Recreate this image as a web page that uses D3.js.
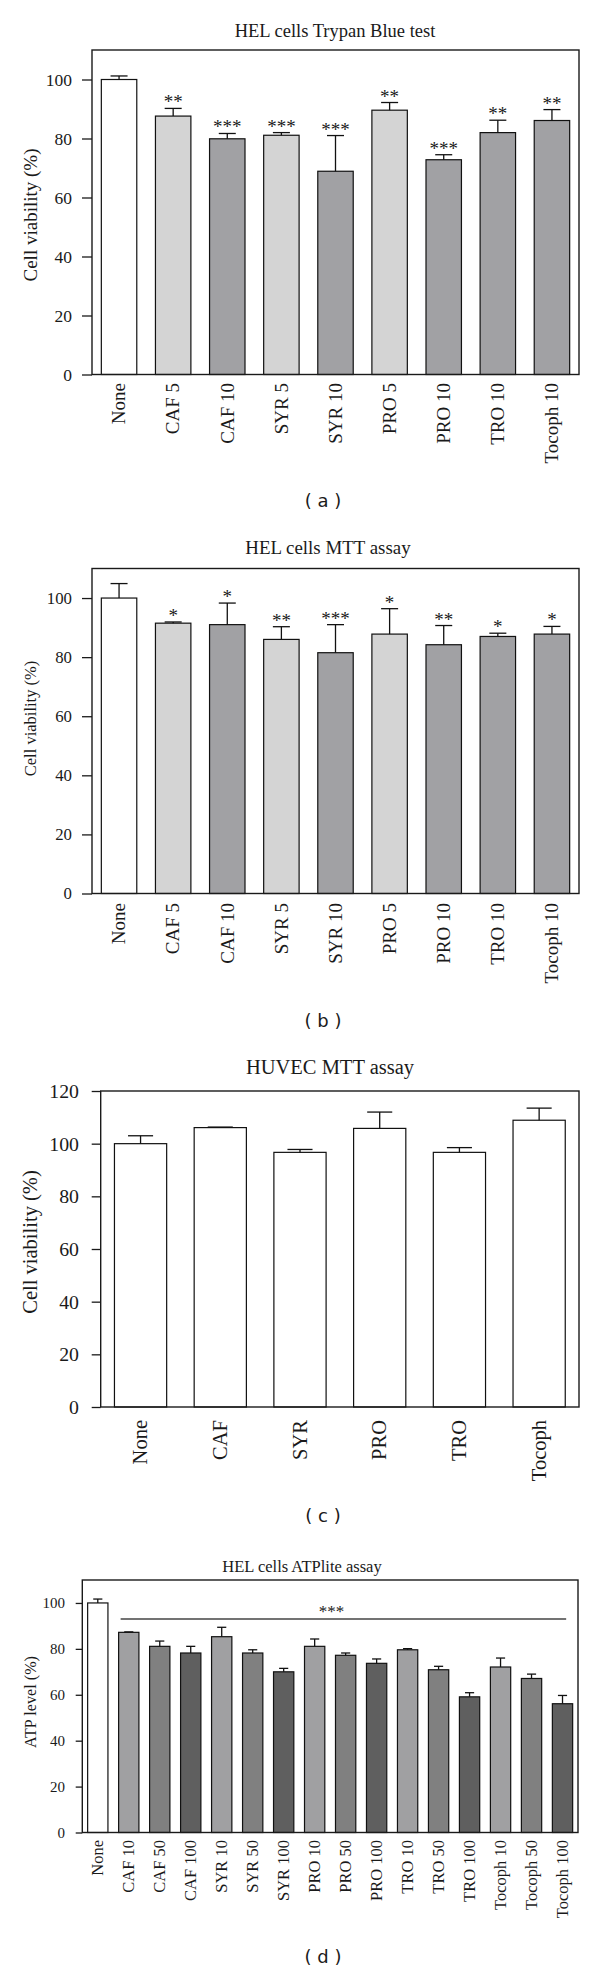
<!DOCTYPE html>
<html><head><meta charset="utf-8">
<script src="https://cdn.jsdelivr.net/npm/d3@7"></script>
<style>
body{margin:0;background:#fff}
svg{display:block}
text{font-family:"Liberation Serif","Times New Roman",serif;fill:#1a1a1a}
</style>
</head><body>
<svg id="fig" width="600" height="1971"></svg>
<script>
// ---------- DATA ----------
const catsA = ["None","CAF 5","CAF 10","SYR 5","SYR 10","PRO 5","PRO 10","TRO 10","Tocoph 10"];
const meanA = [100, 87.6, 79.9, 81.1, 68.9, 89.6, 72.8, 82.0, 86.1];
const sdA   = [1.2, 2.6, 1.8, 0.9, 12.1, 2.6, 1.7, 4.2, 3.7];
const starsA = ["", "**", "***", "***", "***", "**", "***", "**", "**"];
const doseA = ["ctrl","5","10","5","10","5","10","10","10"];

const catsB = ["None","CAF 5","CAF 10","SYR 5","SYR 10","PRO 5","PRO 10","TRO 10","Tocoph 10"];
const meanB = [100, 91.5, 91.0, 86.0, 81.5, 87.8, 84.2, 87.0, 87.8];
const sdB   = [4.9, 0.4, 7.3, 4.3, 9.5, 8.6, 6.5, 1.1, 2.6];
const starsB = ["", "*", "*", "**", "***", "*", "**", "*", "*"];
const doseB = ["ctrl","5","10","5","10","5","10","10","10"];

const catsC = ["None","CAF","SYR","PRO","TRO","Tocoph"];
const meanC = [100, 106.1, 96.7, 105.8, 96.7, 108.9];
const sdC   = [3.0, 0.2, 1.1, 6.2, 1.8, 4.6];
const starsC = ["", "", "", "", "", ""];
const doseC = ["ctrl","ctrl","ctrl","ctrl","ctrl","ctrl"];

const catsD = ["None","CAF 10","CAF 50","CAF 100","SYR 10","SYR 50","SYR 100","PRO 10","PRO 50","PRO 100","TRO 10","TRO 50","TRO 100","Tocoph 10","Tocoph 50","Tocoph 100"];
const meanD = [100, 87.2, 81.1, 78.2, 85.3, 78.2, 70.0, 81.1, 77.2, 73.7, 79.6, 70.9, 59.1, 72.1, 67.1, 56.1];
const sdD   = [1.7, 0.2, 2.3, 2.9, 4.1, 1.4, 1.5, 3.2, 1.0, 1.9, 0.5, 1.5, 1.8, 3.9, 1.9, 3.6];
const doseD = ["ctrl","10","50","100","10","50","100","10","50","100","10","50","100","10","50","100"];
const sigD = {stars: "***", level: 93.0};

const ticksAB = [0, 20, 40, 60, 80, 100];
const ticksC = [0, 20, 40, 60, 80, 100, 120];
const ticksD = [0, 20, 40, 60, 80, 100];

const titles = ["HEL cells Trypan Blue test", "HEL cells MTT assay", "HUVEC MTT assay", "HEL cells ATPlite assay"];
const yLabels = ["Cell viability (%)", "Cell viability (%)", "Cell viability (%)", "ATP level (%)"];
const captions = ["( a )", "( b )", "( c )", "( d )"];

// ---------- STYLE ----------
const colorABC = {ctrl: "#ffffff", "5": "#d4d4d4", "10": "#a1a1a4"};
const colorD = {ctrl: "#ffffff", "10": "#a0a0a2", "50": "#808080", "100": "#5f5f5f"};

const svg = d3.select("#fig");

function panel(cfg) {
  const g = svg.append("g");
  const x = d3.scaleBand().domain(cfg.cats).range([cfg.L, cfg.R]).paddingInner(0.345).paddingOuter(0.1725);
  const y = d3.scaleLinear().domain([0, cfg.max]).range([cfg.B, cfg.T]);
  const bw = x.bandwidth();
  const rows = cfg.cats.map((c, i) => ({c, m: cfg.mean[i], sd: cfg.sd[i], s: cfg.stars ? cfg.stars[i] : "", d: cfg.dose[i]}));

  // y axis ticks
  const ax = d3.axisLeft(y).tickValues(cfg.ticks).tickSize(cfg.tickSize).tickPadding(cfg.tickPad).tickFormat(d3.format("d"));
  const axg = g.append("g").attr("transform", `translate(${cfg.L},0)`).call(ax);
  axg.select(".domain").remove();
  axg.selectAll(".tick line").attr("stroke", "#1a1a1a").attr("stroke-width", 1.3);
  axg.selectAll(".tick text").style("font-family", '"Liberation Serif","Times New Roman",serif')
     .style("font-size", cfg.tickFont + "px").attr("fill", "#1a1a1a");

  // bars
  g.selectAll("rect.bar").data(rows).join("rect").attr("class", "bar")
    .attr("x", d => x(d.c)).attr("width", bw)
    .attr("y", d => y(d.m)).attr("height", d => y(0) - y(d.m))
    .attr("fill", d => cfg.colors[d.d]).attr("stroke", "#111").attr("stroke-width", 1.2);

  // error bars
  const cw = bw * cfg.capFrac;
  const eg = g.append("g").attr("stroke", "#111").attr("stroke-width", 1.3);
  eg.selectAll("line.v").data(rows).join("line")
    .attr("x1", d => x(d.c) + bw / 2).attr("x2", d => x(d.c) + bw / 2)
    .attr("y1", d => y(d.m)).attr("y2", d => y(d.m + d.sd));
  eg.selectAll("line.h").data(rows).join("line")
    .attr("x1", d => x(d.c) + bw / 2 - cw / 2).attr("x2", d => x(d.c) + bw / 2 + cw / 2)
    .attr("y1", d => y(d.m + d.sd)).attr("y2", d => y(d.m + d.sd));

  // stars
  g.selectAll("text.star").data(rows.filter(d => d.s)).join("text").attr("class", "star")
    .attr("x", d => x(d.c) + bw / 2).attr("y", d => y(d.m + d.sd) + cfg.starDy)
    .attr("text-anchor", "middle").style("font-size", cfg.starFont + "px").attr("fill", "#555")
    .text(d => d.s);

  // frame
  g.append("rect").attr("x", cfg.L).attr("y", cfg.T).attr("width", cfg.R - cfg.L).attr("height", cfg.B - cfg.T)
    .attr("fill", "none").attr("stroke", "#1a1a1a").attr("stroke-width", 1.4);

  // x labels
  g.selectAll("text.xl").data(rows).join("text").attr("class", "xl")
    .attr("transform", d => `translate(${x(d.c) + bw / 2},${cfg.B + cfg.xOff}) rotate(-90)`)
    .attr("text-anchor", "end").attr("dy", "0.33em").style("font-size", cfg.xFont + "px")
    .text(d => d.c);

  // y label
  g.append("text").attr("transform", `translate(${cfg.yLabX},${cfg.yLabY}) rotate(-90)`)
    .attr("text-anchor", "middle").attr("dy", "0.33em").style("font-size", cfg.yLabFont + "px").text(cfg.yLabel);

  // title
  g.append("text").attr("x", cfg.titleX).attr("y", cfg.titleY).attr("text-anchor", "middle")
    .style("font-size", cfg.titleFont + "px").text(cfg.title);

  // caption
  g.append("text").attr("x", 323).attr("y", cfg.capY).attr("text-anchor", "middle")
    .style("font-family", '"DejaVu Sans",sans-serif').style("font-size", "18px").text(cfg.caption);

  return {g, x, y, bw};
}

panel({cats: catsA, mean: meanA, sd: sdA, stars: starsA, dose: doseA, colors: colorABC, ticks: ticksAB,
  L: 92, R: 579, T: 50, B: 374.5, max: 110, tickSize: 10, tickPad: 10, tickFont: 17.5,
  xFont: 19, xOff: 8.5, yLabFont: 19, yLabX: 30.6, yLabY: 215, capFrac: 0.48, starFont: 19, starDy: 0,
  title: titles[0], titleX: 335, titleY: 36.7, titleFont: 18.5, yLabel: yLabels[0], caption: captions[0], capY: 507});

panel({cats: catsB, mean: meanB, sd: sdB, stars: starsB, dose: doseB, colors: colorABC, ticks: ticksAB,
  L: 92, R: 579, T: 568.5, B: 893.5, max: 110, tickSize: 10, tickPad: 10, tickFont: 16.8,
  xFont: 19, xOff: 9.5, yLabFont: 16.5, yLabX: 30.6, yLabY: 718.5, capFrac: 0.48, starFont: 19, starDy: 0,
  title: titles[1], titleX: 328, titleY: 554, titleFont: 18.9, yLabel: yLabels[1], caption: captions[1], capY: 1027});

panel({cats: catsC, mean: meanC, sd: sdC, stars: starsC, dose: doseC, colors: colorABC, ticks: ticksC,
  L: 100.7, R: 579, T: 1091, B: 1407, max: 120, tickSize: 9, tickPad: 12.7, tickFont: 19.8,
  xFont: 20.5, xOff: 13, yLabFont: 20.5, yLabX: 30.6, yLabY: 1242, capFrac: 0.48, starFont: 19, starDy: 0,
  title: titles[2], titleX: 330, titleY: 1074, titleFont: 20.5, yLabel: yLabels[2], caption: captions[2], capY: 1522});

const pd = panel({cats: catsD, mean: meanD, sd: sdD, stars: null, dose: doseD, colors: colorD, ticks: ticksD,
  L: 82.3, R: 578, T: 1580, B: 1832.5, max: 110, tickSize: 6.6, tickPad: 10.7, tickFont: 15,
  xFont: 16.5, xOff: 7.5, yLabFont: 16.2, yLabX: 31, yLabY: 1702, capFrac: 0.45, starFont: 17, starDy: 0,
  title: titles[3], titleX: 302, titleY: 1572, titleFont: 16.5, yLabel: yLabels[3], caption: captions[3], capY: 1963});

// significance line for panel d
const x1 = pd.x(catsD[1]) + 2, x2 = pd.x(catsD[catsD.length - 1]) + pd.bw * 0.68;
pd.g.append("line").attr("x1", x1).attr("x2", x2).attr("y1", pd.y(sigD.level)).attr("y2", pd.y(sigD.level))
  .attr("stroke", "#444").attr("stroke-width", 1.3);
pd.g.append("text").attr("x", (x1 + x2) / 2 - 12).attr("y", pd.y(sigD.level) - 2).attr("text-anchor", "middle")
  .style("font-size", "17px").attr("fill", "#555").text(sigD.stars);
</script>
</body></html>
